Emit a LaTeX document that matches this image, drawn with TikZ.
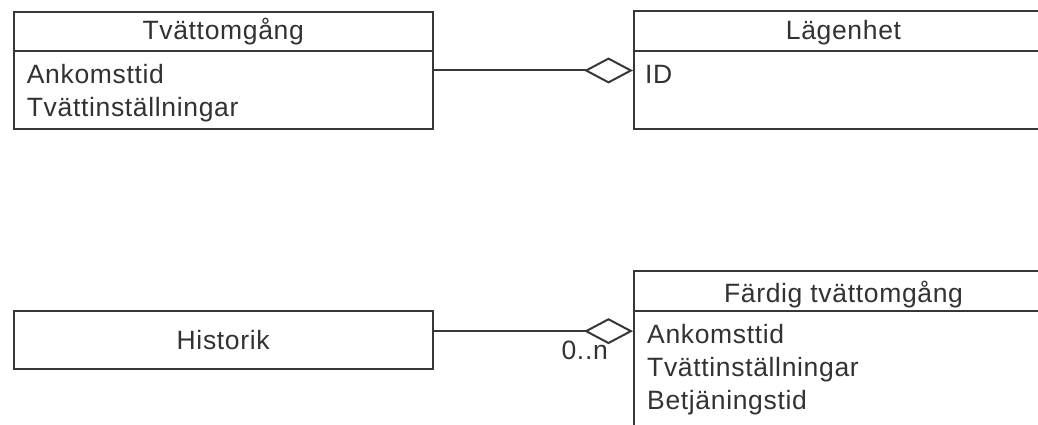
\documentclass[tikz,border=0pt]{standalone}
\usepackage{fontspec}
\setmainfont{Liberation Sans}[LetterSpace=2.5]
\usetikzlibrary{arrows.meta}
\definecolor{umlline}{RGB}{55,55,55}
\definecolor{umltext}{RGB}{50,50,50}
\tikzset{
  umlbox/.style={draw=umlline, line width=2pt, fill=white, rectangle, inner sep=0pt,
    minimum width=419pt, anchor=north west},
  umltitle/.style={anchor=base, inner sep=0pt, text=umltext, font=\fontsize{26.5}{30}\selectfont},
  umlattr/.style={anchor=base west, inner sep=0pt, text=umltext, font=\fontsize{26.5}{30}\selectfont},
  umlsep/.style={draw=umlline, line width=2pt},
  aggr/.style={draw=umlline, line width=2pt,
    -{Diamond[open, length=49pt, width=26pt, line width=2pt]}},
}
\begin{document}
\begin{tikzpicture}[x=1pt, y=-1pt]
\path[use as bounding box, clip] (0,0) rectangle (1038,425);
\fill[white] (0,0) rectangle (1038,425);

% Tvättomgång
\node[umlbox, minimum height=117.6pt] (tv) at (12.7,10.7) {};
\draw[umlsep] ([yshift=-40pt]tv.north west) -- ([yshift=-40pt]tv.north east);
\node[umltitle] (tvt) at ([yshift=-29pt]tv.north) {Tvättomgång};
\node[umlattr] (tva1) at ([xshift=14pt,yshift=-73pt]tv.north west) {Ankomsttid};
\node[umlattr] (tva2) at ([xshift=14pt,yshift=-106pt]tv.north west) {Tvättinställningar};

% Lägenhet
\node[umlbox, minimum height=117.6pt] (la) at (633,10.4) {};
\draw[umlsep] ([yshift=-40.3pt]la.north west) -- ([yshift=-40.3pt]la.north east);
\node[umltitle] (lat) at ([yshift=-29pt]la.north) {Lägenhet};
\node[umlattr] (laa1) at ([xshift=12pt,yshift=-73pt]la.north west) {ID};

% Historik
\node[umlbox, minimum height=58.3pt] (hi) at (12.7,310) {};
\node[anchor=base, inner sep=0pt, text=umltext, font=\fontsize{26.5}{30}\selectfont] (hit) at ([yshift=-9pt]hi.center) {Historik};

% Färdig tvättomgång
\node[umlbox, minimum height=160pt] (fa) at (633,270) {};
\draw[umlsep] ([yshift=-40.7pt]fa.north west) -- ([yshift=-40.7pt]fa.north east);
\node[umltitle] (fat) at ([yshift=-32pt]fa.north) {Färdig tvättomgång};
\node[umlattr] (faa1) at ([xshift=14pt,yshift=-73pt]fa.north west) {Ankomsttid};
\node[umlattr] (faa2) at ([xshift=14pt,yshift=-106pt]fa.north west) {Tvättinställningar};
\node[umlattr] (faa3) at ([xshift=14pt,yshift=-139pt]fa.north west) {Betjäningstid};

% connectors
\draw[aggr] (tv.east) -- (tv.east -| la.west);
\coordinate (hic) at ([yshift=9pt]hi.east);
\draw[aggr] (hic) -- (hic -| fa.west);
\node[anchor=base east, inner sep=0pt, text=umltext, font=\fontsize{26.5}{30}\selectfont] (mult) at ([xshift=-25pt,yshift=-28pt]hic -| fa.west) {0..n};
\end{tikzpicture}
\end{document}
